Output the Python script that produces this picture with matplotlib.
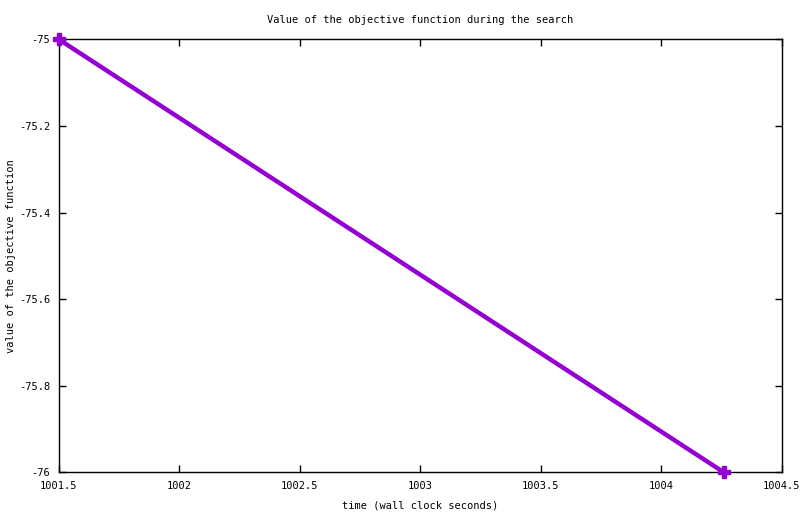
import matplotlib
matplotlib.use("Agg")
import matplotlib.pyplot as plt

# search trace: wall clock time vs objective value
time_s = [1001.5, 1004.26]
objective = [-75.0, -76.0]

x_ticks = [1001.5, 1002, 1002.5, 1003, 1003.5, 1004, 1004.5]
x_labels = ["1001.5", "1002", "1002.5", "1003", "1003.5", "1004", "1004.5"]
y_ticks = [-76, -75.8, -75.6, -75.4, -75.2, -75]
y_labels = ["-76", "-75.8", "-75.6", "-75.4", "-75.2", "-75"]

plt.rcParams["font.family"] = ["DejaVu Sans Mono"]
plt.rcParams["font.size"] = 7.5

fig = plt.figure(figsize=(8.0, 5.14), dpi=100)
ax = fig.add_axes([0.0734, 0.0811, 0.9036, 0.8424])

ax.plot(time_s, objective, color="#9400d3", linewidth=3.2,
        marker="P", markersize=8, clip_on=False, zorder=3)

ax.set_xlim(1001.5, 1004.5)
ax.set_ylim(-76, -75)
ax.set_xticks(x_ticks)
ax.set_xticklabels(x_labels)
ax.set_yticks(y_ticks)
ax.set_yticklabels(y_labels)
ax.tick_params(direction="in", top=True, right=True, length=5, width=1, pad=6)
for sp in ax.spines.values():
    sp.set_linewidth(1)

ax.set_title("Value of the objective function during the search",
             fontsize=7.5, pad=12)
ax.set_xlabel("time (wall clock seconds)", labelpad=7)
ax.set_ylabel("value of the objective function", labelpad=2)

fig.savefig("out.png", dpi=100)
